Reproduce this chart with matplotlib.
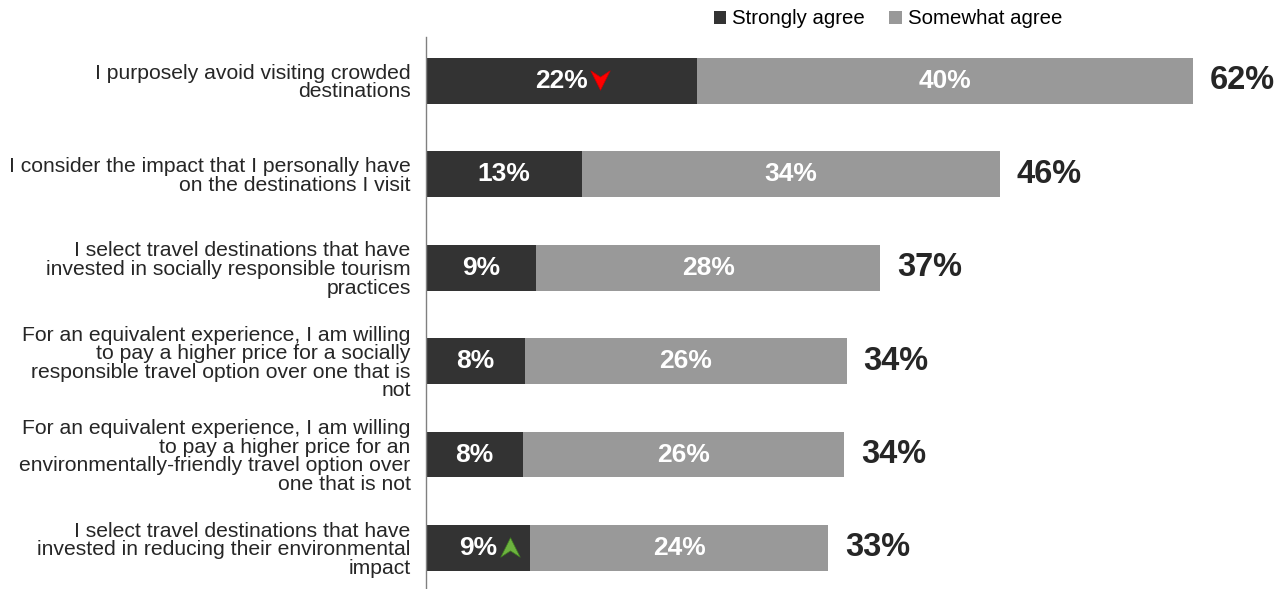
import matplotlib.pyplot as plt
import numpy as np
from matplotlib.path import Path
from matplotlib import transforms

plt.rcParams['font.family'] = ['Liberation Sans', 'DejaVu Sans']

categories = [
    "I purposely avoid visiting crowded\ndestinations",
    "I consider the impact that I personally have\non the destinations I visit",
    "I select travel destinations that have\ninvested in socially responsible tourism\npractices",
    "For an equivalent experience, I am willing\nto pay a higher price for a socially\nresponsible travel option over one that is\nnot",
    "For an equivalent experience, I am willing\nto pay a higher price for an\nenvironmentally-friendly travel option over\none that is not",
    "I select travel destinations that have\ninvested in reducing their environmental\nimpact",
]
strongly = [21.9, 12.6, 8.9, 8.0, 7.8, 8.4]
somewhat = [40.1, 33.8, 27.8, 26.0, 26.0, 24.1]
strongly_labels = ["22%", "13%", "9%", "8%", "8%", "9%"]
somewhat_labels = ["40%", "34%", "28%", "26%", "26%", "24%"]
total_labels = ["62%", "46%", "37%", "34%", "34%", "33%"]
# change arrows: row index, direction
arrows = [(0, "down"), (5, "up")]

dark = "#333333"
grey = "#999999"

fig = plt.figure(figsize=(12.76, 5.89), dpi=100)
ax = fig.add_axes([426 / 1276, -1 / 589, 850 / 1276, 553 / 589])

y = np.arange(len(categories))
h = 0.49
s = np.array(strongly)
w = np.array(somewhat)
ax.barh(y, s, height=h, color=dark, label="Strongly agree")
ax.barh(y, w, left=s, height=h, color=grey, label="Somewhat agree")

for i in range(len(y)):
    ax.text(s[i] / 2, y[i], strongly_labels[i], ha="center", va="center",
            color="white", fontsize=19, fontweight="bold")
    ax.text(s[i] + w[i] / 2, y[i], somewhat_labels[i], ha="center", va="center",
            color="white", fontsize=19, fontweight="bold")
    ax.annotate(total_labels[i], (s[i] + w[i], y[i]), xytext=(12, 0),
                textcoords="offset points", ha="left", va="center",
                color="#262626", fontsize=23.5, fontweight="bold")

down = Path([(-1, 1), (0, -1), (1, 1), (0, 0.35), (-1, 1)],
            [Path.MOVETO, Path.LINETO, Path.LINETO, Path.LINETO, Path.CLOSEPOLY])
up = Path([(-1, -1), (0, 1), (1, -1), (0, -0.35), (-1, -1)],
          [Path.MOVETO, Path.LINETO, Path.LINETO, Path.LINETO, Path.CLOSEPOLY])
for row, d in arrows:
    if d == "down":
        tr = transforms.offset_copy(ax.transData, fig=fig, x=28, y=1, units="points")
        ax.plot(s[row] / 2, y[row], marker=down, color="#ff0000", markersize=14,
                markeredgewidth=0.5, markeredgecolor="#cc0000", transform=tr)
    else:
        tr = transforms.offset_copy(ax.transData, fig=fig, x=23, y=1, units="points")
        ax.plot(s[row] / 2, y[row], marker=up, color="#6db33f", markersize=14,
                markeredgewidth=0.5, markeredgecolor="#3f7f1f", transform=tr)

ax.set_xlim(0, 68.7)
ax.set_ylim(len(categories) - 1 + 0.45, -0.47)
ax.set_yticks(y)
ax.set_yticklabels(categories, fontsize=15.2, color="#262626", linespacing=0.97)
ax.tick_params(axis="y", length=0, pad=11)
ax.set_xticks([])
for sp in ["top", "right", "bottom"]:
    ax.spines[sp].set_visible(False)
ax.spines["left"].set_color("#808080")
ax.spines["left"].set_linewidth(1)

fig.legend(loc="upper center", bbox_to_anchor=(888 / 1276, 1.005), ncol=2,
           frameon=False, fontsize=14.7, handlelength=0.6, handleheight=0.6,
           handletextpad=0.3, columnspacing=1.2, borderaxespad=0.2)

fig.savefig("out.png", dpi=100)
